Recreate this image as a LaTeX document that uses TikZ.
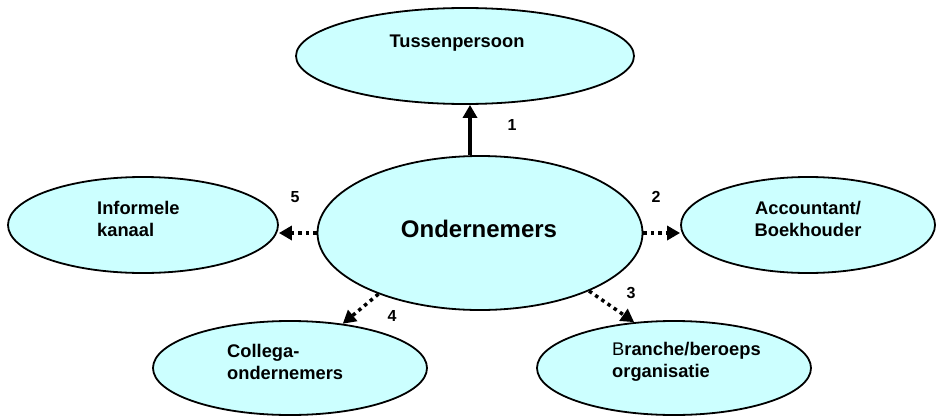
\documentclass[tikz,border=0pt]{standalone}
\usepackage{fontspec}
\setmainfont{Liberation Sans}
\usetikzlibrary{arrows.meta,shapes.geometric}
\definecolor{bubble}{HTML}{CCFFFF}
\begin{document}
\begin{tikzpicture}[x=1pt,y=-1pt,
  bubble/.style={ellipse,draw=black,line width=1.8pt,fill=bubble,inner sep=0pt,
    minimum width=#1},
  txt/.style={font=\fontsize{18.3}{22}\selectfont\bfseries,inner sep=0pt},
  bigtxt/.style={font=\fontsize{24}{28}\selectfont\bfseries,inner sep=0pt},
  num/.style={font=\fontsize{16}{19}\selectfont\bfseries,inner sep=0pt},
  tip/.style={-{Triangle[length=13pt,width=14pt]}},
  solidlink/.style={tip,line width=3.5pt},
  dotlink/.style={tip,line width=3.5pt,dash pattern=on 3.5pt off 4pt}]
\useasboundingbox (0,0) rectangle (936,415);

% the ellipses
\node[bubble=338pt,minimum height=96pt] (tus) at (465,56) {};
\node[bubble=325pt,minimum height=154pt] (ond) at (480,233) {};
\node[bubble=270pt,minimum height=96pt] (inf) at (143,225) {};
\node[bubble=254pt,minimum height=96pt] (acc) at (808,225) {};
\node[bubble=274pt,minimum height=94pt] (col) at (290,368) {};
\node[bubble=274pt,minimum height=94pt] (bra) at (674,368) {};

% their texts
\node[txt] (tusT) at (457,43) {Tussenpersoon};
\node[bigtxt] (ondT) at (479,229) {Ondernemers};
\node[txt,anchor=west,align=left] (infT) at (97,219) {Informele\\kanaal};
\node[txt,align=center] (accT) at (808,219) {Accountant/\\Boekhouder};
\node[txt,anchor=west,align=left] (colT) at (227,362) {Collega-\\ondernemers};
\node[txt,anchor=west,align=left] (braT) at (612,362) {{\mdseries B}ranche/beroeps\\organisatie};

% connectors
\draw[solidlink] ([xshift=-10pt]ond.north) -- ([xshift=-10pt]ond.north |- tus.south);
\draw[dotlink] (ond.east) -- (ond.east -| acc.west);
\draw[dotlink] (ond.west) -- (ond.west -| inf.east);
\draw[dotlink] (ond.-28) -- (bra.131);
\draw[dotlink] (ond.211) -- (col.40);

% numbers
\node[num] (n1) at (512,125) {1};
\node[num] (n2) at (656,197) {2};
\node[num] (n3) at (631,293) {3};
\node[num] (n4) at (392,316) {4};
\node[num] (n5) at (295,197) {5};
\end{tikzpicture}
\end{document}
